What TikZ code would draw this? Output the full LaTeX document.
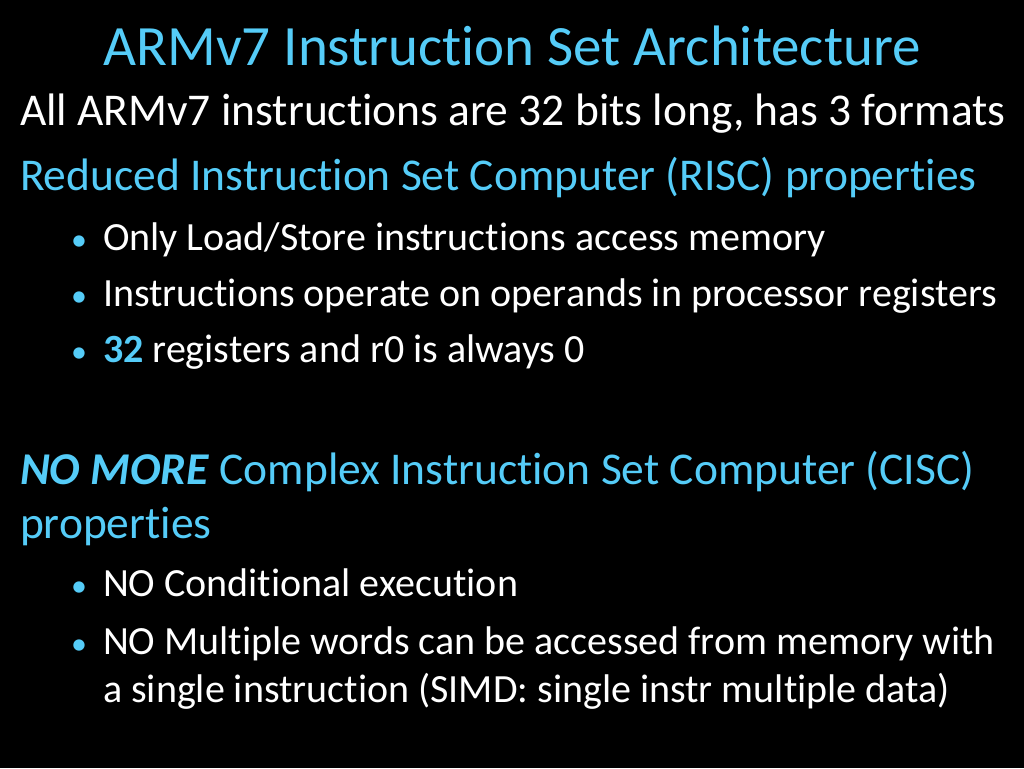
\documentclass[tikz,border=0pt]{standalone}
\usepackage{fontspec}
\setmainfont{Carlito}[RawFeature={-liga}]
\definecolor{accent}{RGB}{85,204,248}
\begin{document}
\begin{tikzpicture}[x=1pt,y=-1pt,
  every node/.style={inner sep=0pt,outer sep=0pt,text=white},
  title/.style={font=\fontsize{57}{64}\selectfont,text=accent,anchor=base},
  body/.style={font=\fontsize{45.5}{52}\selectfont,anchor=base west},
  head/.style={body,text=accent},
  item/.style={font=\fontsize{40}{46}\selectfont,anchor=base west},
  bul/.style={font=\fontsize{32}{38}\selectfont,text=accent,anchor=base}]
\fill[black] (0,0) rectangle (1024,768);
\useasboundingbox (0,0) rectangle (1024,768);
\node[title] (t) at (512,66) {ARMv7 Instruction Set Architecture};
\node[body] (l1) at (20,125) {All ARMv7 instructions are 32 bits long, has 3 formats};
\node[head] (h1) at (20,190) {Reduced Instruction Set Computer (RISC) properties};
\node[bul] (b1) at (79,250) {•};
\node[item] (i1) at (103,250) {Only Load/Store instructions access memory};
\node[bul] (b2) at (79,306) {•};
\node[item] (i2) at (103,306) {Instructions operate on operands in processor registers};
\node[bul] (b3) at (79,362) {•};
\node[item] (i3) at (103,362) {\textcolor{accent}{\textbf{32}} registers and r0 is always 0};
\node[head] (h2) at (20,484) {\textbf{\textit{NO MORE}} Complex Instruction Set Computer (CISC)};
\node[head] (h2b) at (20,538) {properties};
\node[bul] (b4) at (79,596) {•};
\node[item] (i4) at (103,596) {NO Conditional execution};
\node[bul] (b5) at (79,654) {•};
\node[item] (i5) at (103,654) {NO Multiple words can be accessed from memory with};
\node[item] (i5b) at (103,702) {a single instruction (SIMD: single instr multiple data)};
\end{tikzpicture}
\end{document}
